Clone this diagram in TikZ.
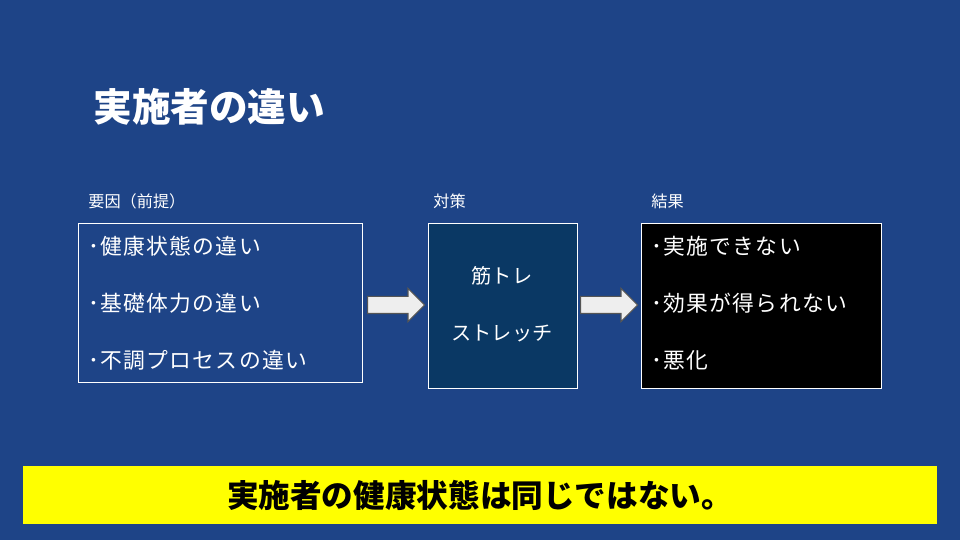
\documentclass[tikz,border=0pt]{standalone}
\usepackage{fontspec}
\usepackage{tikz}
\usetikzlibrary{shapes.arrows,positioning}
\newfontfamily\jpfont{Noto Sans CJK JP}
\newfontfamily\jpwide[LetterSpace=6]{Noto Sans CJK JP}
\definecolor{slbg}{HTML}{1E4487}
\definecolor{slnavy}{HTML}{0A3864}
\definecolor{slarrow}{HTML}{EEEEEE}
\definecolor{slarrowd}{HTML}{555555}
\definecolor{slyellow}{HTML}{FFFF00}
\tikzset{
  panel/.style    = {draw=white, line width=0.6pt, anchor=north west,
                     inner sep=0pt},
  item/.style     = {anchor=west, inner sep=0pt, text=white,
                     font=\jpwide\fontsize{12.4pt}{15pt}\selectfont},
  midtext/.style  = {inner sep=0pt, text=white,
                     font=\jpfont\fontsize{11.5pt}{14pt}\selectfont},
  head/.style     = {anchor=west, inner sep=0pt, text=white,
                     font=\jpfont\fontsize{9.2pt}{11pt}\selectfont},
  blockarrow/.style = {single arrow, draw=slarrowd, fill=slarrow,
                     line width=0.6pt, minimum height=1.14cm,
                     single arrow head extend=0.16cm, inner xsep=0pt,
                     inner ysep=0.16cm, anchor=west},
}

\begin{document}
\begin{tikzpicture}[x=0.02cm, y=-0.02cm]

  % ---------- background --------------------------------------------------
  \fill[slbg] (0,0) rectangle (960,540);
  \useasboundingbox (0,0) rectangle (960,540);

  % ---------- title -------------------------------------------------------
  \node[anchor=west, inner sep=0pt, text=white,
        font=\jpfont\bfseries\fontsize{22pt}{26pt}\selectfont] (title) at (93,107)
    {実施者の違い};

  % ---------- column heads ------------------------------------------------
  \node[head] (hcause)  at (88,201)  {要因（前提）};
  \node[head] (hplan)   at (433,201) {対策};
  \node[head] (hresult) at (651,201) {結果};

  % ---------- panels ------------------------------------------------------
  \node[panel, minimum width=5.68cm, minimum height=3.18cm] (cause) at (78,223) {};
  \node[panel, fill=slnavy, minimum width=2.98cm, minimum height=3.30cm] (plan)
    at (428,223) {};
  \node[panel, fill=black, minimum width=4.80cm, minimum height=3.30cm] (result)
    at (641,223) {};

  \node[item] (c1) at (88,246) {･健康状態の違い};
  \node[item] (c2) at (88,303) {･基礎体力の違い};
  \node[item] (c3) at (88,360) {･不調プロセスの違い};

  \node[midtext] (p1) at (502,276) {筋トレ};
  \node[midtext] (p2) at (502,333) {ストレッチ};

  \node[item] (r1) at (651,246) {･実施できない};
  \node[item] (r2) at (651,303) {･効果が得られない};
  \node[item] (r3) at (651,360) {･悪化};

  % ---------- arrows ------------------------------------------------------
  \node[blockarrow] (arr1) at (367,305) {};
  \node[blockarrow] (arr2) at (580,305) {};

  % ---------- conclusion --------------------------------------------------
  \node[fill=slyellow, minimum width=18.28cm, minimum height=1.16cm,
        inner sep=0pt, font=\jpfont\bfseries\fontsize{18pt}{21pt}\selectfont]
    (concl) at (480,495) {実施者の健康状態は同じではない。};

\end{tikzpicture}
\end{document}
